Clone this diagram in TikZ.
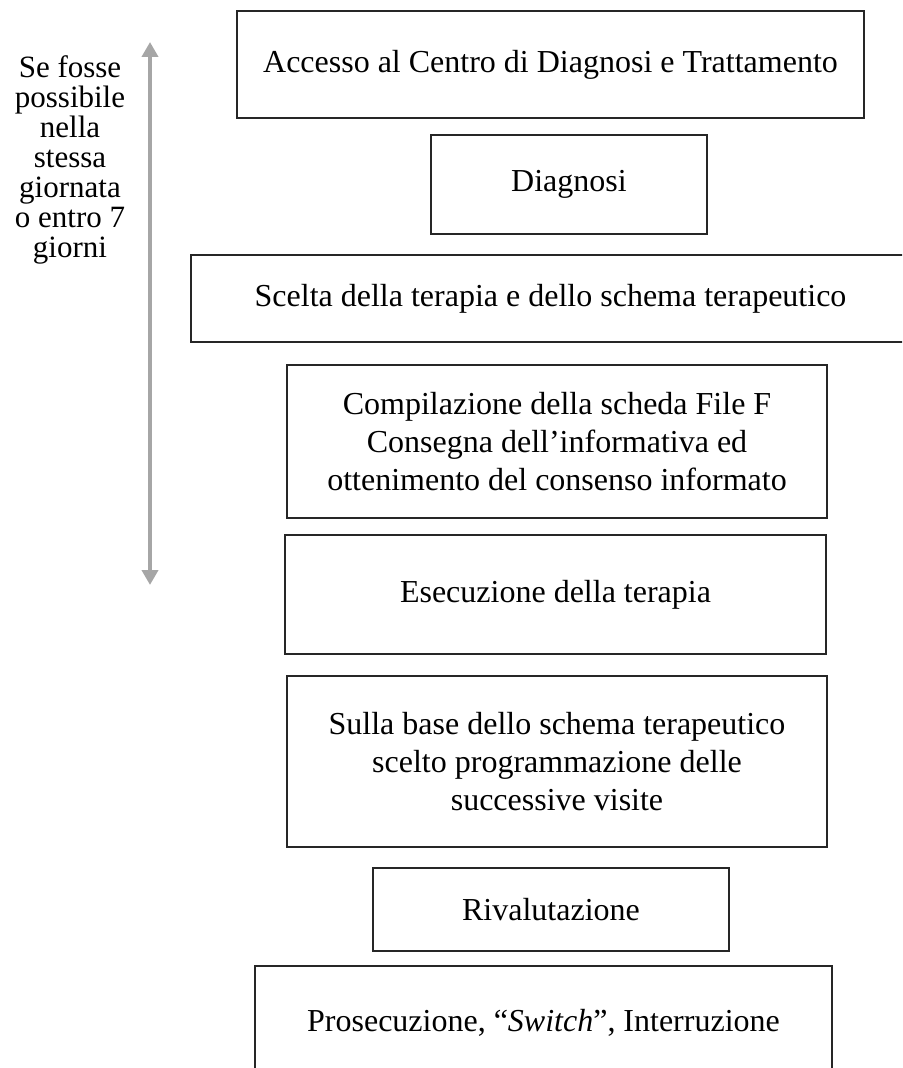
\documentclass[tikz,border=0pt]{standalone}
\usepackage{fontspec}
\setmainfont{Liberation Serif}
\usepackage{tikz}
\usetikzlibrary{arrows.meta}
\tikzset{
  % --- riquadri del percorso --------------------------------
  passo/.style={draw=black!85, line width=0.6pt, fill=white, align=center,
    inner sep=0pt, font=\fontsize{16}{19}\selectfont},
  nota/.style={align=center, inner sep=0pt, font=\fontsize{15.5}{15}\selectfont},
  freccia/.style={{Triangle[width=8pt,length=7.5pt]}-{Triangle[width=8pt,length=7.5pt]},
    draw=black!35, line width=2pt}
}
\begin{document}
\begin{tikzpicture}[x=0.5pt, y=-0.5pt]
  \useasboundingbox (0,0) rectangle (902,1068);
  \clip (0,0) rectangle (902,1068);

  % ---------- Passi ----------
  \node[passo, minimum width=313.5pt, minimum height=53.5pt] (acc) at (550.5,64.5)
    {Accesso al Centro di Diagnosi e Trattamento};
  \node[passo, minimum width=138pt, minimum height=49.5pt] (diag) at (569,184.5)
    {Diagnosi};
  \node[passo, minimum width=359.5pt, minimum height=43.5pt] (scelta) at (550.5,298.5)
    {Scelta della terapia e dello schema terapeutico};
  \node[passo, minimum width=270pt, minimum height=76.5pt] (comp) at (557,441.5)
    {Compilazione della scheda File F\\Consegna dell’informativa ed\\ottenimento del consenso informato};
  \node[passo, minimum width=270.5pt, minimum height=59.5pt] (esec) at (555.5,594.5)
    {Esecuzione della terapia};
  \node[passo, minimum width=270pt, minimum height=85.5pt] (prog) at (557,761.5)
    {Sulla base dello schema terapeutico\\scelto programmazione delle\\successive visite};
  \node[passo, minimum width=178pt, minimum height=41.5pt] (riv) at (551,909.5)
    {Rivalutazione};
  \node[passo, minimum width=288.5pt, minimum height=57pt] (pros) at (543.5,1023)
    {Prosecuzione, “\textit{Switch}”, Interruzione};

  % ---------- Tempi ----------
  \node[nota] (tempi) at (70,160)
    {Se fosse\\possibile\\nella\\stessa\\giornata\\o entro 7\\giorni};
  \coordinate (inizio) at (150,42);
  \coordinate (fine) at (150,585);
  \draw[freccia] (inizio) -- (fine);

\end{tikzpicture}
\end{document}
